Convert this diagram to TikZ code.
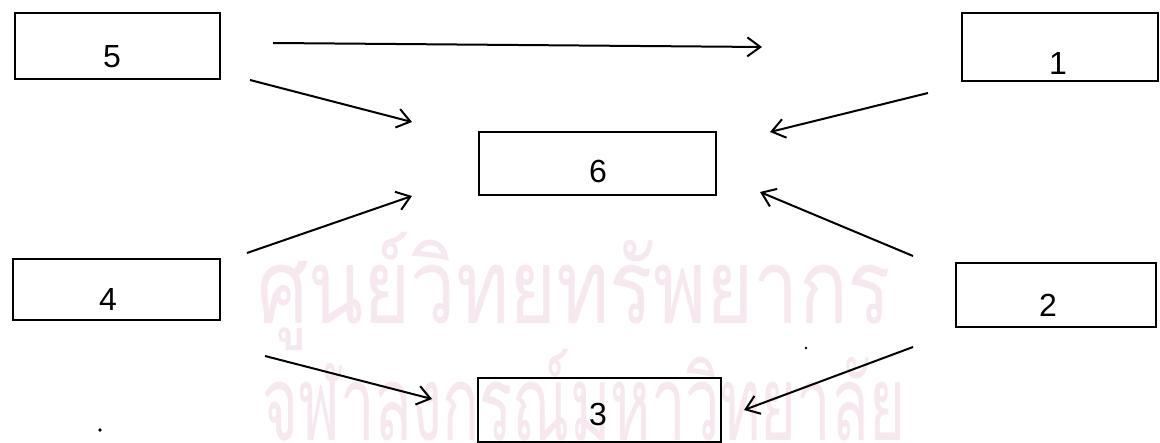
\documentclass[tikz,border=0pt]{standalone}
\usepackage{fontspec}
\setmainfont{Liberation Sans}
\newfontfamily\thaifont[Script=Thai]{Loma}
\usetikzlibrary{arrows.meta}
\definecolor{wm}{RGB}{247,231,239}
\tikzset{
  box/.style={draw=black, line width=2.2pt, inner sep=0pt, fill=none},
  lbl/.style={font=\fontsize{32}{36}\selectfont, inner sep=0pt},
  arr/.style={draw=black, line width=2pt, -{Straight Barb[length=13pt,width=19pt,line width=2pt]}},
  wmtext/.style={text=wm, font=\thaifont\fontsize{104}{110}\selectfont, inner sep=0pt, anchor=west},
}
\begin{document}
\begin{tikzpicture}[x=1pt,y=-1pt]
\useasboundingbox (0,0) rectangle (1160,443);
\fill[white] (0,0) rectangle (1160,443);
% watermark
\node[wmtext] (wm1) at (257,291) {\resizebox{634pt}{\height}{ศูนย์วิทยทรัพยากร}};
\node[wmtext] (wm2) at (262,408) {\resizebox{643pt}{\height}{จุฬาลงกรณ์มหาวิทยาลัย}};
% boxes
\node[box, minimum width=205pt, minimum height=66pt] (b5) at (117.5,46) {};
\node[box, minimum width=196pt, minimum height=68pt] (b1) at (1060,47) {};
\node[box, minimum width=237pt, minimum height=63pt] (b6) at (597.5,163.5) {};
\node[box, minimum width=207pt, minimum height=61pt] (b4) at (116.5,289.5) {};
\node[box, minimum width=200pt, minimum height=64pt] (b2) at (1056,295) {};
\node[box, minimum width=243pt, minimum height=64pt] (b3) at (599.5,410) {};
% labels
\node[lbl] (t5) at (112,57) {5};
\node[lbl] (t1) at (1058,63) {1};
\node[lbl] (t6) at (598,171) {6};
\node[lbl] (t4) at (108,299) {4};
\node[lbl] (t2) at (1048,305) {2};
\node[lbl] (t3) at (598,414) {3};
% arrow end points
\coordinate (s51) at (273,43);  \coordinate (e51) at (762,47);
\coordinate (s56) at (250,80);  \coordinate (e56) at (412,122);
\coordinate (s16) at (928,93);  \coordinate (e16) at (770,132);
\coordinate (s46) at (247,253); \coordinate (e46) at (412,196);
\coordinate (s26) at (913,256); \coordinate (e26) at (760,192);
\coordinate (s43) at (265,356); \coordinate (e43) at (432,399);
\coordinate (s23) at (913,347); \coordinate (e23) at (744,410);
\draw[arr] (s51) -- (e51);
\draw[arr] (s56) -- (e56);
\draw[arr] (s16) -- (e16);
\draw[arr] (s46) -- (e46);
\draw[arr] (s26) -- (e26);
\draw[arr] (s43) -- (e43);
\draw[arr] (s23) -- (e23);
% stray dots
\fill (100,430) circle (1.8pt);
\fill (806,348) circle (1.3pt);
\end{tikzpicture}
\end{document}
